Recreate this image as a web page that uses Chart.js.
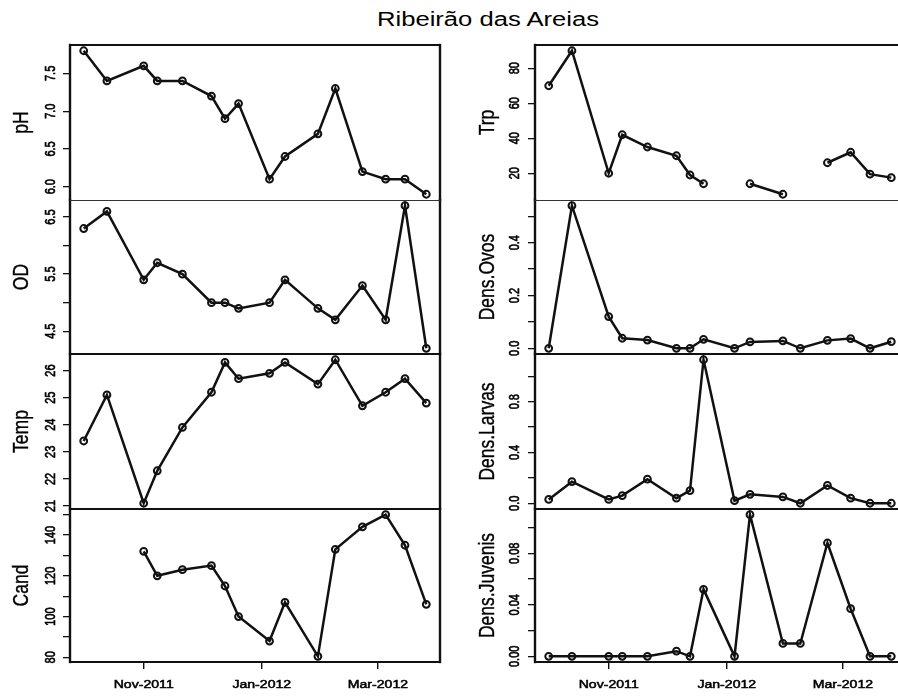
<!DOCTYPE html>
<html>
<head>
<meta charset="utf-8">
<script src="https://cdn.jsdelivr.net/npm/chart.js@4.4.1/dist/chart.umd.min.js"></script>
<style>
  html, body { margin: 0; padding: 0; background: #fff; overflow: hidden; width: 898px; height: 697px; }
  #wrap { position: relative; width: 898px; height: 697px; overflow: hidden; background: #fff; }
  #wrap canvas { position: absolute; }
  #title {
    position: absolute; left: 488px; top: 8px; white-space: nowrap; color: #000;
    font: 20px "Liberation Sans", Arial, sans-serif; line-height: 23px;
    transform: translateX(-50%) scaleX(1.28);
  }
</style>
</head>
<body>
<div id="wrap"><div id="title">Ribeirão das Areias</div></div>
<script>
// Sampling dates (Ribeirão das Areias, Oct 2011 – Mar 2012)
const sampleDates = ['2011-10-01', '2011-10-13', '2011-11-01', '2011-11-08', '2011-11-21', '2011-12-06',
                     '2011-12-13', '2011-12-20', '2012-01-05', '2012-01-13', '2012-01-30', '2012-02-08',
                     '2012-02-22', '2012-03-05', '2012-03-15', '2012-03-26'];

// Physico-chemical variables
const pH   = [7.8, 7.4, 7.6, 7.4, 7.4, 7.2, 6.9, 7.1, 6.1, 6.4, 6.7, 7.3, 6.2, 6.1, 6.1, 5.9];
const od   = [6.3, 6.6, 5.4, 5.7, 5.5, 5.0, 5.0, 4.9, 5.0, 5.4, 4.9, 4.7, 5.3, 4.7, 6.7, 4.2];
const temp = [23.4, 25.1, 21.1, 22.3, 23.9, 25.2, 26.3, 25.7, 25.9, 26.3, 25.5, 26.4, 24.7, 25.2, 25.7, 24.8];
const cand = [null, null, 132, 120, 123, 125, 115, 100, 88, 107, 80.5, 133, 144, 150, 135, 106];

// Turbidity and densities
const trp     = [70, 90, 20, 42, 35, 30, 19, 14, null, 14, 8, null, 26, 32, 19.5, 17.5];
const ovos    = [0, 0.54, 0.12, 0.038, 0.031, 0, 0, 0.034, 0, 0.024, 0.028, 0, 0.030, 0.037, 0, 0.025];
const larvas  = [0.03, 0.17, 0.03, 0.06, 0.19, 0.04, 0.10, 1.13, 0.02, 0.07, 0.05, 0, 0.14, 0.04, 0, 0];
const juvenis = [0, 0, 0, 0, 0, 0.004, 0, 0.052, 0, 0.11, 0.01, 0.01, 0.088, 0.037, 0, 0];

// Axis ticks; an empty label means a tick mark without text
const xTickDates  = ['2011-11-01', '2012-01-01', '2012-03-01'];
const xTickLabels = ['Nov-2011', 'Jan-2012', 'Mar-2012'];
const pHTicks      = [6.0, 6.5, 7.0, 7.5];
const pHLabels     = ['6.0', '6.5', '7.0', '7.5'];
const odTicks      = [4.5, 5.0, 5.5, 6.0, 6.5];
const odLabels     = ['4.5', '', '5.5', '', '6.5'];
const tempTicks    = [21, 22, 23, 24, 25, 26];
const tempLabels   = ['21', '22', '23', '24', '25', '26'];
const candTicks    = [80, 90, 100, 110, 120, 130, 140, 150];
const candLabels   = ['80', '', '100', '', '120', '', '140', ''];
const trpTicks     = [20, 40, 60, 80];
const trpLabels    = ['20', '40', '60', '80'];
const ovosTicks    = [0, 0.1, 0.2, 0.3, 0.4, 0.5];
const ovosLabels   = ['0.0', '', '0.2', '', '0.4', ''];
const larvasTicks  = [0, 0.2, 0.4, 0.6, 0.8, 1.0];
const larvasLabels = ['0.0', '', '0.4', '', '0.8', ''];
const juvTicks     = [0, 0.02, 0.04, 0.06, 0.08, 0.10];
const juvLabels    = ['0.00', '', '0.04', '', '0.08', ''];

const FONT = '"Liberation Sans", Arial, sans-serif';
const SX = 1.28;        // horizontal text stretch of the device
const INK = '#111';
const PAD = 10;         // room around each panel for markers on the edge
const XAX = 36;         // height of the date axis under the bottom panels

const columns = [
  { x0: 0,   left: 70,  right: 440, labelX: 51,  titleX: 22 },
  { x0: 450, left: 535, right: 905, labelX: 515, titleX: 488 }
];
const rows = [45, 200, 354, 509, 662];

const panels = [
  { col: 0, row: 0, title: 'pH',           values: pH,      ticks: pHTicks,     labels: pHLabels },
  { col: 0, row: 1, title: 'OD',           values: od,      ticks: odTicks,     labels: odLabels },
  { col: 0, row: 2, title: 'Temp',         values: temp,    ticks: tempTicks,   labels: tempLabels },
  { col: 0, row: 3, title: 'Cand',         values: cand,    ticks: candTicks,   labels: candLabels },
  { col: 1, row: 0, title: 'Trp',          values: trp,     ticks: trpTicks,    labels: trpLabels },
  { col: 1, row: 1, title: 'Dens.Ovos',    values: ovos,    ticks: ovosTicks,   labels: ovosLabels },
  { col: 1, row: 2, title: 'Dens.Larvas',  values: larvas,  ticks: larvasTicks, labels: larvasLabels },
  { col: 1, row: 3, title: 'Dens.Juvenis', values: juvenis, ticks: juvTicks,    labels: juvLabels }
];

function dayNumber(iso) {
  const [y, m, d] = iso.split('-').map(Number);
  return Date.UTC(y, m - 1, d) / 86400000;
}
// data range widened by 4% on each side
function paddedRange(vals) {
  const v = vals.filter(a => a !== null);
  const lo = Math.min(...v), hi = Math.max(...v);
  const e = (hi - lo) * 0.04;
  return [lo - e, hi + e];
}

const days = sampleDates.map(dayNumber);
const xTickDays = xTickDates.map(dayNumber);
const xRange = paddedRange(days);

function stretchedText(ctx, txt, x, y, size, rotated, weight) {
  ctx.save();
  ctx.translate(x, y);
  ctx.scale(SX, 1);
  if (rotated) ctx.rotate(-Math.PI / 2);
  ctx.font = size + 'px ' + FONT;
  ctx.textAlign = 'center';
  ctx.textBaseline = 'middle';
  ctx.fillStyle = '#000';
  ctx.fillText(txt, 0, 0);
  if (weight) {
    ctx.strokeStyle = '#000';
    ctx.lineWidth = weight;
    ctx.strokeText(txt, 0, 0);
  }
  ctx.restore();
}

function framePlugin(p, col, isBottom) {
  return {
    id: 'frame',
    afterDraw(chart) {
      const ctx = chart.ctx, a = chart.chartArea;
      const seg = (x1, y1, x2, y2) => { ctx.beginPath(); ctx.moveTo(x1, y1); ctx.lineTo(x2, y2); ctx.stroke(); };
      ctx.save();
      ctx.lineCap = 'square';
      ctx.strokeStyle = INK;
      ctx.lineWidth = 2.4;
      seg(a.left, a.top, a.left, a.bottom);
      seg(a.right, a.top, a.right, a.bottom);
      if (p.row === 1) {
        ctx.lineWidth = 1; ctx.strokeStyle = '#333';
        seg(a.left, a.top + 0.5, a.right, a.top + 0.5);
      } else {
        ctx.lineWidth = 2;
        seg(a.left, a.top, a.right, a.top);
      }
      if (isBottom) { ctx.lineWidth = 2; ctx.strokeStyle = INK; seg(a.left, a.bottom, a.right, a.bottom); }
      ctx.restore();

      const ys = chart.scales.y;
      p.ticks.forEach((v, i) => {
        if (p.labels[i]) stretchedText(ctx, p.labels[i], col.labelX - col.x0, ys.getPixelForValue(v), 11, true, 0.5);
      });
      stretchedText(ctx, p.title, col.titleX - col.x0, (a.top + a.bottom) / 2, 17.5, true, 0.3);

      if (isBottom) {
        const xs = chart.scales.x;
        xTickDays.forEach((v, i) => stretchedText(ctx, xTickLabels[i], xs.getPixelForValue(v), a.bottom + 23, 11, false, 0.5));
      }
    }
  };
}

const wrap = document.getElementById('wrap');
panels.forEach(p => {
  const col = columns[p.col];
  const isBottom = p.row === rows.length - 2;
  const top = rows[p.row], bottom = rows[p.row + 1];
  const W = col.right + PAD - col.x0;
  const H = (bottom - top) + PAD + (isBottom ? XAX : PAD);
  const cv = document.createElement('canvas');
  cv.width = W; cv.height = H;
  cv.style.left = col.x0 + 'px'; cv.style.top = (top - PAD) + 'px';
  cv.style.width = W + 'px'; cv.style.height = H + 'px';
  wrap.appendChild(cv);

  const yRange = paddedRange(p.values);
  new Chart(cv, {
    type: 'line',
    data: {
      datasets: [{
        data: days.map((d, i) => ({ x: d, y: p.values[i] })),
        borderColor: INK, borderWidth: 2.5, tension: 0, spanGaps: false,
        pointStyle: 'circle', pointRadius: 3.4, pointBorderWidth: 2,
        pointBorderColor: INK, pointBackgroundColor: 'rgba(0,0,0,0)'
      }]
    },
    options: {
      responsive: false, animation: false, devicePixelRatio: 1, events: [],
      layout: { padding: { left: 0, top: PAD, right: PAD, bottom: isBottom ? 0 : PAD } },
      plugins: { legend: { display: false }, tooltip: { enabled: false } },
      scales: {
        x: {
          type: 'linear', min: xRange[0], max: xRange[1], display: isBottom,
          afterBuildTicks: s => { s.ticks = xTickDays.map(v => ({ value: v })); },
          afterFit: s => { if (isBottom) s.height = XAX; },
          grid: { drawOnChartArea: false, drawTicks: true, tickLength: 7, color: INK, lineWidth: 1.4 },
          border: { display: false },
          ticks: { display: false }
        },
        y: {
          type: 'linear', min: yRange[0], max: yRange[1],
          afterBuildTicks: s => { s.ticks = p.ticks.map(v => ({ value: v })); },
          afterFit: s => { s.width = col.left - col.x0; },
          grid: { drawOnChartArea: false, drawTicks: true, tickLength: 7, color: INK, lineWidth: 1.3 },
          border: { display: false },
          ticks: { display: false }
        }
      }
    },
    plugins: [framePlugin(p, col, isBottom)]
  });
});
</script>
</body>
</html>
